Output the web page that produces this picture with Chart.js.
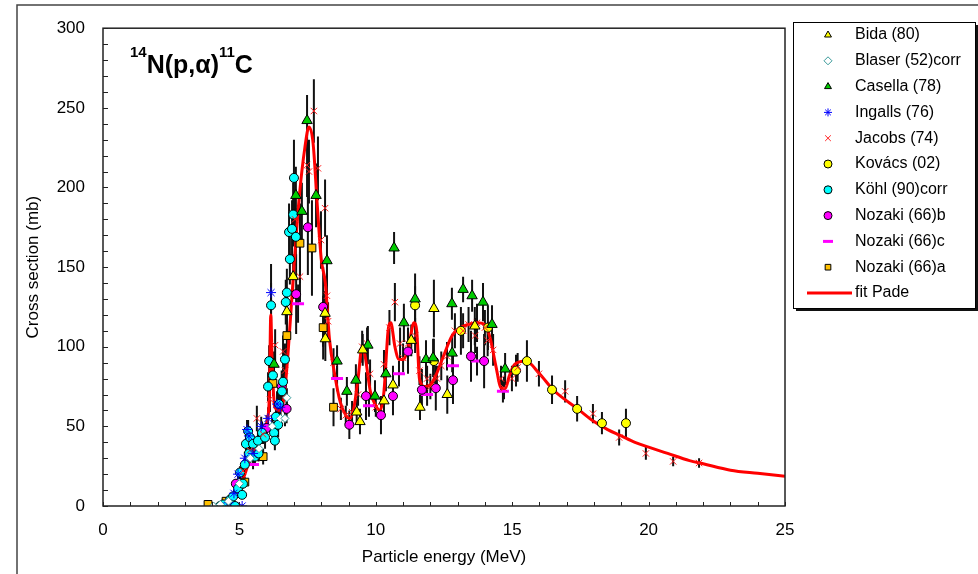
<!DOCTYPE html>
<html lang="en">
  <head>
    <meta charset="UTF-8" />
    <title>14N(p,alpha)11C cross section</title>
    <script src="https://cdn.jsdelivr.net/npm/chart.js"></script>
    <style>
      body { margin: 0; background: #fff; }
    </style>
  </head>
  <body>
    <canvas id="xsChart" width="978" height="574"></canvas>
    <script>
      // each point: [energy (MeV), cross section (mb), error (mb)]
      var bida = [[6.74,122,12],[6.97,144,14],[8.14,121,14],[8.15,105,14],[9.3,59,8],[9.42,53,8],[9.52,98,10],[10.3,66,9],[10.63,76,12],[11.3,104,10],[11.62,62,8],[12.13,124,18],[12.62,70,12],[13.63,113,12]];
      var blaser = [[4.05,0,1],[4.3,1,1],[4.6,3,1],[5.0,14,2],[5.4,30,3],[5.72,36,4],[6.2,50,5],[6.5,55,5],[6.67,55,5],[6.74,68,6]];
      var casella = [[6.27,89,8],[7.07,195,18],[7.29,185,18],[7.48,242,16],[7.81,195,20],[8.21,154,16],[8.58,91,10],[8.94,72,9],[9.27,79,10],[9.71,101,12],[9.97,69,10],[10.37,83,11],[10.67,162,10],[11.03,115,12],[11.44,130,16],[11.84,92,12],[12.1,93,12],[12.79,127,10],[12.8,96,12],[13.2,136,8],[13.53,132,10],[13.93,128,12],[14.26,114,12],[14.74,86,10]];
      var ingalls = [[4.6,2,1],[4.8,8,2],[4.95,20,3],[5.1,0,1],[5.2,30,4],[5.28,48,6],[5.35,44,6],[5.5,33,5],[5.8,50,6],[6.05,55,7],[6.16,134,18],[6.38,64,8],[6.5,62,8]];
      var jacobs = [[5.13,22,4],[5.39,35,5],[5.64,55,8],[5.87,45,6],[6.12,67,8],[6.31,101,10],[6.6,97,10],[6.67,85,9],[7.04,180,18],[7.22,144,16],[7.48,214,20],[7.55,210,20],[7.73,248,20],[7.88,212,20],[7.99,167,18],[8.14,187,18],[8.21,132,14],[8.25,116,12],[8.45,90,9],[8.72,61,7],[8.9,57,6],[9.13,59,7],[9.35,70,7],[9.5,100,10],[9.68,102,10],[9.79,83,9],[10.0,62,6],[10.3,89,9],[10.5,112,11],[10.7,128,12],[10.89,102,10],[11.0,93,9],[11.18,102,10],[11.44,107,11],[11.6,85,9],[11.88,80,8],[12.0,75,8],[12.24,80,8],[12.4,88,9],[12.61,94,9],[12.9,110,11],[13.2,110,11],[13.4,114,11],[13.64,107,11],[13.71,115,12],[14.0,112,11],[14.1,104,10],[14.3,98,10],[14.59,80,8],[14.7,74,7],[14.99,80,8],[15.2,87,9],[15.98,83,8],[16.94,72,7],[17.96,58,6],[18.92,43,5],[19.9,33,4],[20.9,28,3],[21.85,27,3]];
      var kovacs = [[11.44,126,12],[12.13,91,14],[13.12,110,15],[14.11,112,14],[15.14,85,10],[15.54,91,13],[16.46,73,9],[17.38,61,8],[18.29,52,7],[19.17,52,9]];
      var kohl = [[4.29,0,1],[4.4,1,1],[4.66,4,2],[4.77,6,2],[4.84,0,1],[4.95,11,3],[5.02,21,4],[5.1,7,2],[5.13,14,3],[5.2,26,4],[5.24,39,6],[5.32,47,7],[5.35,33,5],[5.39,43,6],[5.5,39,6],[5.57,31,5],[5.68,41,6],[5.7,33,5],[5.83,46,7],[5.94,43,7],[6.05,75,9],[6.09,91,10],[6.16,126,14],[6.23,82,9],[6.27,46,7],[6.3,41,6],[6.34,56,8],[6.42,51,8],[6.45,64,8],[6.56,72,9],[6.6,78,9],[6.67,92,10],[6.7,128,14],[6.74,134,15],[6.82,172,18],[6.85,155,16],[6.93,174,18],[6.97,183,20],[7.0,206,24],[7.07,169,18]];
      var nozakiB = [[4.87,14,3],[6.0,49,8],[6.55,75,10],[6.73,61,9],[7.08,133,25],[7.51,175,30],[8.07,125,25],[9.03,51,9],[9.64,69,15],[10.19,57,12],[10.63,69,12],[11.18,97,14],[11.69,73,13],[12.2,74,14],[12.83,79,15],[13.49,94,16],[13.97,91,17]];
      var nozakiC = [[5.5,26,3],[7.15,127,12],[8.58,80,8],[9.75,63,7],[10.85,83,8],[11.88,70,7],[12.83,88,9],[13.71,91,9],[14.66,72,7]];
      var nozakiA = [[3.85,1,1],[4.51,3,1],[5.2,15,3],[5.87,31,5],[6.23,77,8],[6.74,107,15],[7.22,165,25],[7.66,162,30],[8.07,112,20],[8.45,62,12]];
      // Pade fit: [energy, cross section]
      var fitPade = [[3.9,0],[4.2,0.5],[4.5,2],[4.8,6],[5.0,11],[5.2,20],[5.4,30],[5.6,38],[5.8,44],[6.0,52],[6.1,70],[6.15,120],[6.2,90],[6.3,62],[6.5,60],[6.65,70],[6.8,100],[7.0,150],[7.2,195],[7.4,225],[7.55,238],[7.7,228],[7.85,190],[8.0,155],[8.15,140],[8.3,105],[8.5,82],[8.7,65],[8.9,57],[9.05,55],[9.2,62],[9.35,80],[9.5,100],[9.6,95],[9.8,72],[10.0,63],[10.15,60],[10.3,72],[10.45,110],[10.55,115],[10.7,100],[10.85,92],[11.0,92],[11.2,100],[11.4,115],[11.5,110],[11.6,80],[11.8,75],[12.0,76],[12.2,82],[12.5,95],[12.8,107],[13.1,112],[13.4,114],[13.7,115],[14.0,114],[14.2,105],[14.4,88],[14.6,74],[14.75,74],[14.9,82],[15.1,89],[15.5,91],[16.0,83],[16.5,73],[17.0,66],[17.4,61],[18.0,53],[18.5,48],[19.0,44],[19.5,40],[20.0,37],[20.7,33],[21.5,28.5],[22.0,26.5],[23.0,22.5],[24.0,20.5],[25.0,18.7]];

      var xTickLabels = [0, 5, 10, 15, 20, 25];
      var yTickLabels = [0, 50, 100, 150, 200, 250, 300];
      var seriesNames = ["Bida (80)", "Blaser (52)corr", "Casella (78)", "Ingalls (76)", "Jacobs (74)", "Kovács (02)", "Köhl (90)corr", "Nozaki (66)b", "Nozaki (66)c", "Nozaki (66)a", "fit Pade"];

      var FONT = "'Liberation Sans', Arial, sans-serif";
      Chart.defaults.font.family = FONT;
      Chart.defaults.font.size = 17;
      Chart.defaults.color = "#000";

      function pts(arr) {
        return arr.map(function (p) { return { x: p[0], y: p[1], e: p[2] }; });
      }
      function marker(name, data, style, radius, fill, border, bw) {
        return {
          label: name,
          data: pts(data),
          errorBars: true,
          pointStyle: style,
          pointRadius: radius,
          pointBackgroundColor: fill,
          pointBorderColor: border,
          pointBorderWidth: bw,
          showLine: false
        };
      }

      var datasets = [
        marker(seriesNames[0], bida, "triangle", 6, "#ffff00", "#000", 1),
        marker(seriesNames[1], blaser, "rectRot", 4, "#ffffff", "#3a9a9a", 1),
        marker(seriesNames[2], casella, "triangle", 6, "#00cc00", "#000", 1),
        marker(seriesNames[3], ingalls, "star", 5, "rgba(0,0,0,0)", "#0000ff", 1),
        marker(seriesNames[4], jacobs, "crossRot", 4.5, "rgba(0,0,0,0)", "#ff2020", 1),
        marker(seriesNames[5], kovacs, "circle", 4.5, "#ffff00", "#000", 1),
        marker(seriesNames[6], kohl, "circle", 4.5, "#00ffff", "#000", 1),
        marker(seriesNames[7], nozakiB, "circle", 4.5, "#ff00ff", "#000", 1),
        marker(seriesNames[8], nozakiC, "line", 6, "#ff00ff", "#ff00ff", 3),
        marker(seriesNames[9], nozakiA, "rect", 5.5, "#ffc000", "#000", 1),
        {
          label: seriesNames[10],
          data: fitPade.map(function (p) { return { x: p[0], y: p[1] }; }),
          showLine: true,
          borderColor: "#ff0000",
          borderWidth: 3,
          pointRadius: 0,
          cubicInterpolationMode: "monotone"
        }
      ];

      // black vertical error bars, below all markers
      var errorBarPlugin = {
        id: "errorBars",
        beforeDatasetsDraw: function (chart) {
          var ctx = chart.ctx, a = chart.chartArea;
          var xs = chart.scales.x, ys = chart.scales.y;
          ctx.save();
          ctx.beginPath();
          ctx.rect(a.left, a.top, a.right - a.left, a.bottom - a.top);
          ctx.clip();
          ctx.strokeStyle = "#111";
          ctx.lineWidth = 2;
          chart.data.datasets.forEach(function (ds) {
            if (!ds.errorBars) return;
            ds.data.forEach(function (p) {
              if (!p.e) return;
              var px = xs.getPixelForValue(p.x);
              ctx.beginPath();
              ctx.moveTo(px, ys.getPixelForValue(p.y - p.e));
              ctx.lineTo(px, ys.getPixelForValue(p.y + p.e));
              ctx.stroke();
            });
          });
          ctx.restore();
        }
      };

      var decorPlugin = {
        id: "decor",
        beforeDraw: function (chart) {
          var ctx = chart.ctx;
          ctx.save();
          ctx.fillStyle = "#fff";
          ctx.fillRect(0, 0, chart.width, chart.height);
          // outer frame
          ctx.strokeStyle = "#444";
          ctx.lineWidth = 1.5;
          ctx.beginPath();
          ctx.moveTo(17, chart.height);
          ctx.lineTo(17, 5);
          ctx.lineTo(chart.width, 5);
          ctx.stroke();
          ctx.restore();
        },
        afterDraw: function (chart) {
          var ctx = chart.ctx, a = chart.chartArea;
          var xs = chart.scales.x, ys = chart.scales.y;
          ctx.save();
          // plot box
          ctx.strokeStyle = "#222";
          ctx.lineWidth = 1.5;
          ctx.strokeRect(a.left, a.top, a.right - a.left, a.bottom - a.top);
          // inward ticks
          ctx.lineWidth = 1;
          ctx.beginPath();
          ys.ticks.forEach(function (t) {
            var py = Math.round(ys.getPixelForValue(t.value)) + 0.5;
            ctx.moveTo(a.left, py);
            ctx.lineTo(a.left + 5, py);
          });
          xs.ticks.forEach(function (t) {
            var px = Math.round(xs.getPixelForValue(t.value)) + 0.5;
            ctx.moveTo(px, a.bottom);
            ctx.lineTo(px, a.bottom - 4);
          });
          ctx.stroke();

          // reaction title
          ctx.fillStyle = "#000";
          ctx.textBaseline = "alphabetic";
          var tx = 130;
          var parts = [["14", 15, 57], ["N(p,\u03b1)", 25, 73], ["11", 15, 57], ["C", 25, 73]];
          parts.forEach(function (p) {
            ctx.font = "bold " + p[1] + "px " + FONT;
            ctx.fillText(p[0], tx, p[2]);
            tx += ctx.measureText(p[0]).width;
          });

          // legend box with shadow
          var lx = 793, ly = 22, lw = 182, lh = 286;
          ctx.fillStyle = "#111";
          ctx.fillRect(lx + 3, ly + 3, lw, lh);
          ctx.fillStyle = "#fff";
          ctx.fillRect(lx, ly, lw, lh);
          ctx.strokeStyle = "#000";
          ctx.lineWidth = 1;
          ctx.strokeRect(lx + 0.5, ly + 0.5, lw, lh);

          ctx.font = "16px " + FONT;
          ctx.textBaseline = "middle";
          chart.data.datasets.forEach(function (ds, i) {
            var rowY = 35 + i * 25.8;
            if (ds.showLine) {
              ctx.strokeStyle = ds.borderColor;
              ctx.lineWidth = 3;
              ctx.beginPath();
              ctx.moveTo(807, rowY);
              ctx.lineTo(852, rowY);
              ctx.stroke();
            } else {
              ctx.save();
              ctx.fillStyle = ds.pointBackgroundColor;
              ctx.strokeStyle = ds.pointBorderColor;
              ctx.lineWidth = ds.pointBorderWidth;
              var r = ds.pointStyle === "line" ? 5 : 4;
              Chart.helpers.drawPoint(ctx, { pointStyle: ds.pointStyle, radius: r, rotation: 0, borderWidth: ds.pointBorderWidth }, 828, rowY);
              ctx.restore();
            }
            ctx.fillStyle = "#000";
            ctx.fillText(ds.label, 855, rowY);
          });
          ctx.restore();
        }
      };

      var ctx = document.getElementById("xsChart").getContext("2d");
      var xsChart = new Chart(ctx, {
        type: "scatter",
        data: { datasets: datasets },
        options: {
          responsive: false,
          animation: false,
          events: [],
          layout: { padding: { left: 0, top: 20, right: 193, bottom: 0 } },
          plugins: { legend: { display: false }, tooltip: { enabled: false } },
          scales: {
            x: {
              type: "linear",
              min: 0,
              max: 25,
              grid: { display: false, drawTicks: false },
              border: { display: false },
              ticks: {
                stepSize: 1,
                autoSkip: false,
                maxRotation: 0,
                padding: 14,
                callback: function (v) { return xTickLabels.indexOf(v) >= 0 ? v : ""; }
              },
              title: { display: true, text: "Particle energy (MeV)", padding: { top: 0, bottom: 6 } },
              afterFit: function (s) { s.height = 68; }
            },
            y: {
              min: 0,
              max: 300,
              grid: { display: false, drawTicks: false },
              border: { display: false },
              ticks: {
                stepSize: 10,
                autoSkip: false,
                padding: 18,
                callback: function (v) { return yTickLabels.indexOf(v) >= 0 ? v : ""; }
              },
              title: { display: true, text: "Cross section (mb)", padding: { top: 23, bottom: 0 } },
              afterFit: function (s) { s.width = 103; }
            }
          }
        },
        plugins: [errorBarPlugin, decorPlugin]
      });
    </script>
  </body>
</html>
